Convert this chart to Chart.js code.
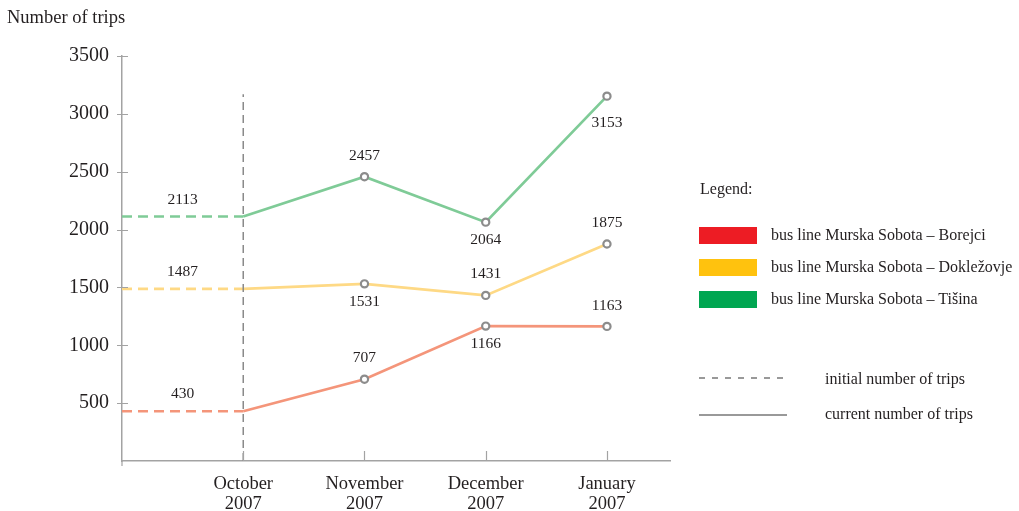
<!DOCTYPE html>
<html>
<head>
<meta charset="utf-8">
<script src="https://cdn.jsdelivr.net/npm/chart.js@4.4.1/dist/chart.umd.min.js"></script>
<style>
  body { margin: 0; background: #fff; font-family: "Liberation Serif", "Times New Roman", serif; color: #231f20; }
  #wrap { position: relative; width: 1019px; height: 511px; }
  .txt { position: absolute; white-space: nowrap; line-height: 1; }
  .sw { position: absolute; left: 699px; width: 58px; height: 17px; }
  .ln { position: absolute; left: 699px; width: 88px; height: 2px; }
</style>
</head>
<body>
<div id="wrap">
  <canvas id="chart" width="1019" height="511"></canvas>
  <div class="txt" style="left:7px; top:8px; font-size:18.5px;">Number of trips</div>
  <div class="txt" style="left:700px; top:181px; font-size:16px;">Legend:</div>
  <div class="sw" style="top:227px; background:#ed1c24;"></div>
  <div class="sw" style="top:259px; background:#ffc20e;"></div>
  <div class="sw" style="top:291px; background:#00a651;"></div>
  <div class="txt" style="left:771px; top:227px; font-size:16px;">bus line Murska Sobota – Borejci</div>
  <div class="txt" style="left:771px; top:259px; font-size:16px;">bus line Murska Sobota – Dokležovje</div>
  <div class="txt" style="left:771px; top:291px; font-size:16px;">bus line Murska Sobota – Tišina</div>
  <div class="ln" style="top:377px; background:repeating-linear-gradient(90deg,#999 0 6px,transparent 6px 13px);"></div>
  <div class="ln" style="top:414px; background:#999;"></div>
  <div class="txt" style="left:825px; top:371px; font-size:16px;">initial number of trips</div>
  <div class="txt" style="left:825px; top:406px; font-size:16px;">current number of trips</div>
</div>
<script>
// months: index 0 = October (initial state), x = -1 is the left edge of the axis
const months = [['October', '2007'], ['November', '2007'], ['December', '2007'], ['January', '2007']];
const yTicks = [500, 1000, 1500, 2000, 2500, 3000, 3500];

// trips per month
const borejci = [430, 707, 1166, 1163];
const doklezovje = [1487, 1531, 1431, 1875];
const tisina = [2113, 2457, 2064, 3153];

// where the value label sits relative to the point
const borejciPos = ['above', 'above', 'below', 'above'];
const doklezovjePos = ['above', 'below', 'above', 'above'];
const tisinaPos = ['above', 'above', 'below', 'farBelow'];

const SERIF = '"Liberation Serif", "Times New Roman", serif';
const TEXT = '#231f20';
const AXIS = '#a3a3a3';
const OFFSETS = { above: -21, below: 18, farBelow: 27 };

function current(values) {
  return values.map((v, i) => ({ x: i, y: v }));
}
function initial(values) {
  return [{ x: -1, y: values[0] }, { x: 0, y: values[0] }];
}

const lines = [
  { values: borejci, pos: borejciPos, color: '#f4957a' },
  { values: doklezovje, pos: doklezovjePos, color: '#fed985' },
  { values: tisina, pos: tisinaPos, color: '#7fcb97' },
];

const datasets = [{
  // reference line at October
  data: [{ x: 0, y: 0 }, { x: 0, y: 3170 }],
  borderColor: '#8a8a8a', borderWidth: 1.5, borderDash: [8, 5], pointRadius: 0,
}];
lines.forEach(l => {
  datasets.push({
    data: initial(l.values),
    borderColor: l.color, borderWidth: 2.7, borderDash: [10, 6], pointRadius: 0,
  });
});
lines.forEach(l => {
  datasets.push({
    data: current(l.values),
    borderColor: l.color, borderWidth: 2.7,
    pointRadius: [0, 3.6, 3.6, 3.6],
    pointBackgroundColor: '#fff', pointBorderColor: '#8c8c8c', pointBorderWidth: 2.2,
  });
});

const decorPlugin = {
  id: 'decor',
  afterDraw(chart) {
    const ctx = chart.ctx;
    const xs = chart.scales.x, ys = chart.scales.y;
    const left = chart.chartArea.left, bottom = chart.chartArea.bottom;
    ctx.save();
    ctx.strokeStyle = AXIS;
    ctx.lineWidth = 1.2;
    ctx.beginPath();
    yTicks.forEach(v => {
      const y = Math.round(ys.getPixelForValue(v)) + 0.5;
      ctx.moveTo(left - 5, y); ctx.lineTo(left + 6, y);
    });
    months.forEach((m, i) => {
      const x = Math.round(xs.getPixelForValue(i)) + 0.5;
      ctx.moveTo(x, bottom - 10); ctx.lineTo(x, bottom);
    });
    ctx.moveTo(left, bottom); ctx.lineTo(left, bottom + 5);
    ctx.stroke();

    // value labels
    ctx.fillStyle = TEXT;
    ctx.font = '15.5px ' + SERIF;
    ctx.textAlign = 'center';
    ctx.textBaseline = 'middle';
    lines.forEach(l => {
      l.values.forEach((v, i) => {
        const xv = i === 0 ? -0.5 : i;
        const x = xs.getPixelForValue(xv);
        const y = ys.getPixelForValue(v);
        const off = i === 0 ? -17 : OFFSETS[l.pos[i]];
        ctx.fillText(String(v), x, y + off);
      });
    });
    ctx.restore();
  }
};

new Chart(document.getElementById('chart'), {
  type: 'line',
  data: { datasets },
  options: {
    responsive: false,
    animation: false,
    events: [],
    layout: { padding: { top: 56, right: 349, bottom: 0, left: 0 } },
    plugins: { legend: { display: false }, tooltip: { enabled: false } },
    scales: {
      x: {
        type: 'linear', min: -1, max: 3.52,
        afterBuildTicks: s => { s.ticks = [-1, 0, 1, 2, 3].map(v => ({ value: v })); },
        afterFit: s => { s.height = 50; },
        grid: { display: true, drawOnChartArea: false, drawTicks: false },
        border: { color: AXIS, width: 1.5 },
        ticks: {
          padding: 13, color: TEXT, maxRotation: 0, autoSkip: false,
          font: { family: SERIF, size: 18.5, lineHeight: 1.1 },
          callback: v => (v >= 0 && months[v]) ? months[v] : '',
        },
      },
      y: {
        type: 'linear', min: 0, max: 3500,
        afterBuildTicks: s => { s.ticks = [0].concat(yTicks).map(v => ({ value: v })); },
        afterFit: s => { s.width = 122; },
        grid: { display: true, drawOnChartArea: false, drawTicks: false },
        border: { color: AXIS, width: 1.5 },
        ticks: {
          padding: 13, color: TEXT,
          font: { family: SERIF, size: 20 },
          callback: v => v === 0 ? '' : String(v),
        },
      },
    },
  },
  plugins: [decorPlugin],
});
</script>
</body>
</html>
